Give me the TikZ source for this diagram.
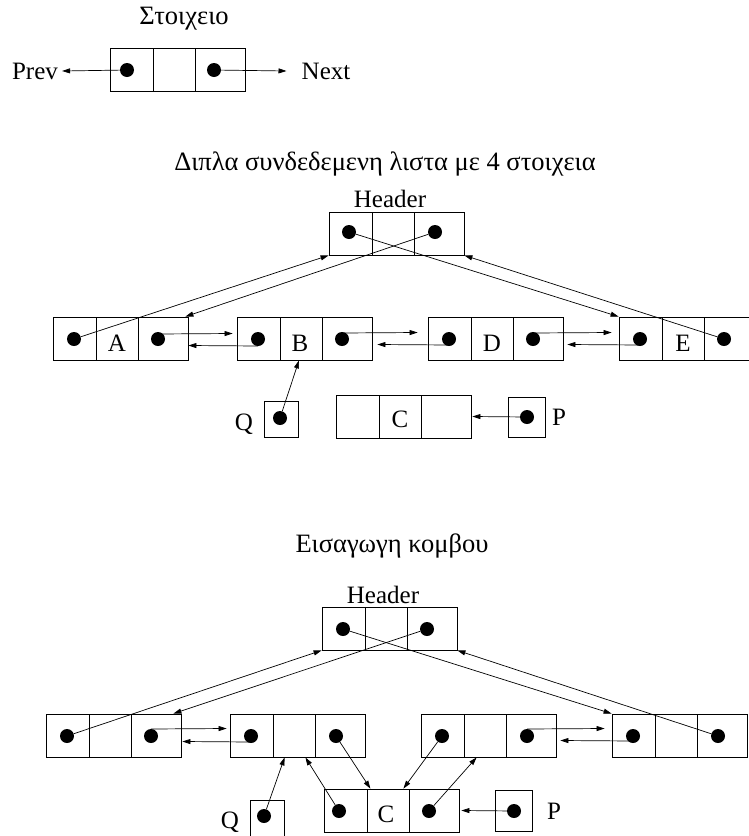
\documentclass[tikz,border=0pt]{standalone}
\usepackage{fontspec}
\setmainfont{Liberation Serif}
\usetikzlibrary{arrows.meta}
\newcommand\lblfont{\fontsize{25}{29}\selectfont}
\newcommand\ttlfont{\fontsize{26.5}{30}\selectfont}
% element of three cells: name, x (left), y (top)
\newcommand\elem[3]{%
  \node[cellA] (#1a) at (#2+21.5,#3+21.5) {};
  \node[cellB] (#1b) at (#2+64,#3+21.5) {};
  \node[cellC] (#1c) at (#2+110,#3+21.5) {};
}
\begin{document}
\begin{tikzpicture}[x=1pt,y=-1pt,
  cellA/.style={draw, line width=0.8pt, minimum width=43pt, minimum height=43pt, inner sep=0pt},
  cellB/.style={cellA, minimum width=42pt},
  cellC/.style={cellA, minimum width=50pt},
  ptrbox/.style={draw, line width=0.8pt, inner sep=0pt},
  dot/.style={circle, fill, inner sep=0pt, minimum size=14pt},
  arr/.style={line width=0.7pt, -{Triangle[length=8pt,width=5pt]}},
  txt/.style={font=\lblfont, inner sep=0pt},
  ttl/.style={font=\ttlfont, inner sep=0pt}]
\useasboundingbox (0,0) rectangle (749,836);
\clip (0,0) rectangle (749,836);

% ---------- top: one element ----------
\node[ttl] (ttop) at (184,19) {Στοιχειο};
\elem{T}{110}{48}
\node[dot] (Tp) at (127,70) {};
\node[dot] (Tn) at (214,70) {};
\node[txt] (Prev) at (35,71) {Prev};
\node[txt] (Next) at (326,71) {Next};
\draw[arr] (Tp) -- ([xshift=4pt]Prev.east);
\draw[arr] (Tn) -- ([xshift=-15pt]Next.west);

% ---------- middle: list with 4 elements ----------
\node[ttl] (tmid) at (385,164) {Διπλα συνδεδεμενη λιστα με 4 στοιχεια};
\node[txt] (Hmt) at (390,199) {Header};
\elem{Hm}{329}{212}
\node[dot] (Hmp) at (349,232) {};
\node[dot] (Hmn) at (435,232) {};

\elem{A}{53}{317}
\elem{B}{237}{317}
\elem{D}{428}{317}
\elem{E}{619}{317}
\node[txt] (Al) at (117,343) {A};
\node[txt] (Bl) at (300,343) {B};
\node[txt] (Dl) at (492,343) {D};
\node[txt] (El) at (683,343) {E};
\node[dot] (Ap) at (74,339) {};
\node[dot] (An) at (158,339) {};
\node[dot] (Bp) at (258,339) {};
\node[dot] (Bn) at (342,339) {};
\node[dot] (Dp) at (449,339) {};
\node[dot] (Dn) at (533,339) {};
\node[dot] (Ep) at (640,339) {};
\node[dot] (En) at (724,339) {};

\elem{Cm}{336}{395}
\node[txt] (Cml) at (400,419) {C};
\node[ptrbox, minimum width=34pt, minimum height=36pt] (Qm) at (281,419) {};
\node[dot] (Qmd) at (280,418) {};
\node[txt] (Qml) at (244,424) {Q};
\node[ptrbox, minimum width=37pt, minimum height=40pt] (Pm) at (526.5,417) {};
\node[dot] (Pmd) at (527,417) {};
\node[txt] (Pml) at (559,417) {P};

\draw[arr] (Ap) -- (Hma.south west);
\draw[arr] (Hmp) -- (Ea.north west);
\draw[arr] (Hmn) -- ([xshift=-3pt]Ac.north east);
\draw[arr] (En) -- (Hmc.south east);
\draw[arr] ([yshift=5pt]An.center) -- ([xshift=-4pt,yshift=5pt]Ba.west);
\draw[arr] ([yshift=-7pt]Bp.center) -- ([yshift=-7pt]Ac.east);
\draw[arr] ([yshift=6pt]Bn.center) -- ([xshift=-10pt,yshift=6pt]Da.west);
\draw[arr] ([yshift=-6pt]Dp.center) -- ([xshift=5pt,yshift=-6pt]Bc.east);
\draw[arr] ([yshift=6pt]Dn.center) -- ([xshift=-7pt,yshift=6pt]Ea.west);
\draw[arr] ([yshift=-6pt]Ep.center) -- ([xshift=4pt,yshift=-6pt]Dc.east);
\draw[arr] (Qmd) -- ([xshift=-2pt]Bb.south);
\draw[arr] (Pmd) -- ([xshift=1pt]Cmc.east);

% ---------- bottom: insertion ----------
\node[ttl] (tbot) at (392,546) {Εισαγωγη κομβου};
\node[txt] (Hbt) at (383,595) {Header};
\elem{Hb}{322}{607}
\node[dot] (Hbp) at (343,629) {};
\node[dot] (Hbn) at (427,629) {};

\elem{N1}{46}{714}
\elem{N2}{230}{714}
\elem{N3}{421}{714}
\elem{N4}{612}{714}
\node[dot] (N1p) at (67,736) {};
\node[dot] (N1n) at (151,736) {};
\node[dot] (N2p) at (251,736) {};
\node[dot] (N2n) at (336,736) {};
\node[dot] (N3p) at (442,736) {};
\node[dot] (N3n) at (527,736) {};
\node[dot] (N4p) at (633,736) {};
\node[dot] (N4n) at (718,736) {};

\elem{Cb}{324}{789}
\node[txt] (Cbl) at (386,814) {C};
\node[dot] (Cbp) at (339,811) {};
\node[dot] (Cbn) at (429,811) {};
\node[ptrbox, minimum width=34pt, minimum height=36pt] (Qb) at (267,818) {};
\node[dot] (Qbd) at (264,816) {};
\node[txt] (Qbl) at (230,822) {Q};
\node[ptrbox, minimum width=37pt, minimum height=41pt] (Pb) at (513.5,810.5) {};
\node[dot] (Pbd) at (514,811) {};
\node[txt] (Pbl) at (554,811) {P};

\draw[arr] (N1p) -- (Hba.south west);
\draw[arr] (Hbp) -- (N4a.north west);
\draw[arr] (Hbn) -- ([xshift=-8pt]N1c.north east);
\draw[arr] (N4n) -- (Hbc.south east);
\draw[arr] ([yshift=7pt]N1n.center) -- ([xshift=-3pt,yshift=7pt]N2a.west);
\draw[arr] ([yshift=-6pt]N2p.center) -- ([xshift=1pt,yshift=-6pt]N1c.east);
\draw[arr] (N2n) -- ([xshift=3pt]Cba.north east);
\draw[arr] (N3p) -- ([xshift=-6pt]Cbb.north east);
\draw[arr] (Qbd) -- ([xshift=12pt]N2b.south west);
\draw[arr] (Cbp) -- ([xshift=-10pt]N2b.south east);
\draw[arr] (Cbn) -- ([xshift=13pt]N3b.south west);
\draw[arr] (Pbd) -- ([xshift=2pt]Cbc.east);
\draw[arr] ([yshift=7pt]N3n.center) -- ([xshift=-7pt,yshift=7pt]N4a.west);
\draw[arr] ([yshift=-5pt]N4p.center) -- ([xshift=4pt,yshift=-5pt]N3c.east);
\end{tikzpicture}
\end{document}
